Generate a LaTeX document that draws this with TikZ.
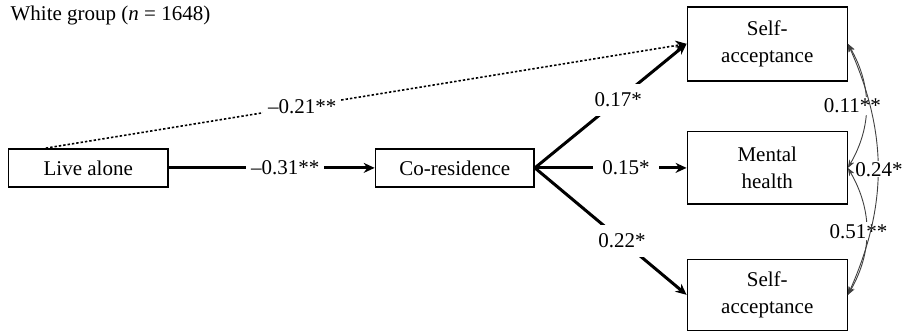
\documentclass[tikz,border=0pt]{standalone}
\usepackage{fontspec}
\setmainfont{Liberation Serif}
\usetikzlibrary{arrows.meta}

\begin{document}
\begin{tikzpicture}[
  title/.style={font=\fontsize{10.5}{12.5}\selectfont, anchor=west, inner sep=0pt},
  varbox/.style={draw, rectangle, align=center, font=\fontsize{10.5}{13.5}\selectfont, minimum width=2.81cm, inner sep=1pt, line width=0.7pt},
  coef/.style={fill=white, inner sep=2.5pt, font=\fontsize{10.5}{12.5}\selectfont},
  arrow/.style={-{Stealth[length=5.5pt,width=5pt]}, line width=1.5pt},
  dotarrow/.style={-{Stealth[length=5.5pt,width=5pt]}, line width=0.8pt, dash pattern=on 1.2pt off 1pt},
  covar/.style={{Stealth[length=4pt,width=3pt]}-{Stealth[length=4pt,width=3pt]}, line width=0.45pt, draw=black!75}
]
\useasboundingbox (0,0) rectangle (15.90,5.87);

\node[title] (grp) at (0.18, 5.59) {White group (\textit{n} = 1648)};

\node[varbox, minimum height=0.67cm] (live) at (1.55, 2.92) {Live alone};
\node[varbox, minimum width=2.79cm, minimum height=0.67cm] (cores) at (7.99, 2.92) {Co-residence};

\node[varbox, minimum height=1.30cm] (accA) at (13.48, 5.10) {Self-\\acceptance};
\node[varbox, minimum height=1.27cm] (mental) at (13.48, 2.92) {Mental\\health};
\node[varbox, minimum height=1.25cm] (accB) at (13.48, 0.69) {Self-\\acceptance};

\draw[arrow] (live) -- node[coef, pos=0.565] {--0.31**} (cores);
\draw[dotarrow] (live.155) -- node[coef, pos=0.40] {--0.21**} (accA.west);

\draw[arrow] (cores.east) -- node[coef, pos=0.55, inner sep=4.5pt] {0.17*} (accA.west);
\draw[arrow] (cores.east) -- node[coef, pos=0.60, inner sep=4.5pt] {0.15*} (mental.west);
\draw[arrow] (cores.east) -- node[coef, pos=0.575, inner sep=4.5pt] {0.22*} (accB.west);

\draw[covar] (accA.east) to[bend left=30] node[coef, pos=0.5, xshift=-0.24cm, inner sep=1pt] {0.11**} (mental.east);
\draw[covar] (mental.east) to[bend left=30] node[coef, pos=0.5, xshift=-0.14cm, inner sep=1pt] {0.51**} (accB.east);
\draw[covar] (accA.east) to[bend left=24] node[coef, pos=0.5, xshift=0.02cm, inner sep=0.5pt] {0.24*} (accB.east);

\end{tikzpicture}
\end{document}
